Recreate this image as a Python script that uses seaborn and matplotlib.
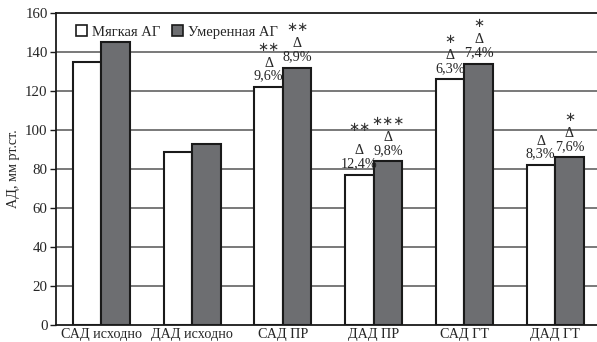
import matplotlib
matplotlib.use("Agg")
import matplotlib.pyplot as plt
import seaborn as sns
import pandas as pd
import numpy as np

categories = ["САД исходно", "ДАД исходно", "САД ПР", "ДАД ПР", "САД ГТ", "ДАД ГТ"]
series_names = ["Мягкая АГ", "Умеренная АГ"]
mild = [135, 89, 122, 77, 126, 82]
moderate = [145, 93, 132, 84, 134, 86]
mild_stars = ["", "", "∗∗", "∗∗", "∗", ""]
moderate_stars = ["", "", "∗∗", "∗∗∗", "∗", "∗"]
mild_pct = ["", "", "9,6%", "12,4%", "6,3%", "8,3%"]
moderate_pct = ["", "", "8,9%", "9,8%", "7,4%", "7,6%"]
y_ticks = [0, 20, 40, 60, 80, 100, 120, 140, 160]

sns.set_theme(style="white")
plt.rcParams["font.family"] = ["Liberation Serif", "DejaVu Serif"]

FS = 10.2

df = pd.DataFrame({
    "cat": categories * 2,
    "val": mild + moderate,
    "grp": [series_names[0]] * 6 + [series_names[1]] * 6,
})

fig = plt.figure(figsize=(5.97, 3.42), dpi=100)
ax = fig.add_axes([0.0938, 0.0497, 0.912, 0.912])

palette = {series_names[0]: "#ffffff", series_names[1]: "#6d6e71"}
sns.barplot(data=df, x="cat", y="val", hue="grp", palette=palette,
            edgecolor="#1a1a1a", linewidth=1.5, width=0.63, gap=0,
            saturation=1, ax=ax, zorder=3)

ax.set_ylim(0, 160)
ax.set_xlim(-0.5, 5.5)
ax.set_yticks(y_ticks)
ax.set_yticklabels([str(t) for t in y_ticks], fontsize=FS + 0.5)
for t in y_ticks[1:-1]:
    ax.axhline(t, color="#6e6e6e", lw=1.3, zorder=1)

ax.set_xlabel("")
ax.set_ylabel("АД, мм рт.ст.", fontsize=FS, labelpad=4)
ax.set_xticks(range(len(categories)))
ax.set_xticklabels(categories, fontsize=FS)
ax.tick_params(axis="x", which="major", length=0, pad=2)
ax.set_xticks(np.arange(-0.5, 5.6, 1.0), minor=True)
ax.tick_params(axis="x", which="minor", length=4, width=1, color="#1a1a1a", direction="out")
ax.tick_params(axis="y", length=4, width=1, color="#1a1a1a", direction="out", pad=2, left=True)

for s in ["left", "bottom", "top"]:
    ax.spines[s].set_visible(True)
    ax.spines[s].set_color("#1a1a1a")
    ax.spines[s].set_linewidth(1.3)
ax.spines["right"].set_visible(False)

# annotations
containers = ax.containers
series_data = [(mild, mild_stars, mild_pct), (moderate, moderate_stars, moderate_pct)]
for ci, (vals, stars, pcts) in enumerate(series_data):
    for i, bar in enumerate(containers[ci]):
        xc = bar.get_x() + bar.get_width() / 2
        top = vals[i]
        if pcts[i]:
            ax.annotate(pcts[i], (xc, top), xytext=(0, 11), textcoords="offset pixels",
                        ha="center", va="center", fontsize=FS, zorder=5)
            ax.annotate("Δ", (xc, top), xytext=(0, 24), textcoords="offset pixels",
                        ha="center", va="center", fontsize=FS, zorder=5)
        if stars[i]:
            off = 47 if (ci == 0 and i == 3) else 40
            ax.annotate(stars[i], (xc, top), xytext=(0, off), textcoords="offset pixels",
                        ha="center", va="center", fontsize=9.5, family=["DejaVu Sans"],
                        color="#333333", zorder=5)

leg = ax.legend(loc="upper left", bbox_to_anchor=(0.02, 0.99), ncol=2, frameon=False,
                fontsize=FS + 0.3, handlelength=0.8, handleheight=0.8, handletextpad=0.3,
                columnspacing=0.8, borderaxespad=0.2)
for h in leg.legend_handles:
    h.set_edgecolor("#1a1a1a")
    h.set_linewidth(1.2)

fig.savefig("out.png", dpi=100)
